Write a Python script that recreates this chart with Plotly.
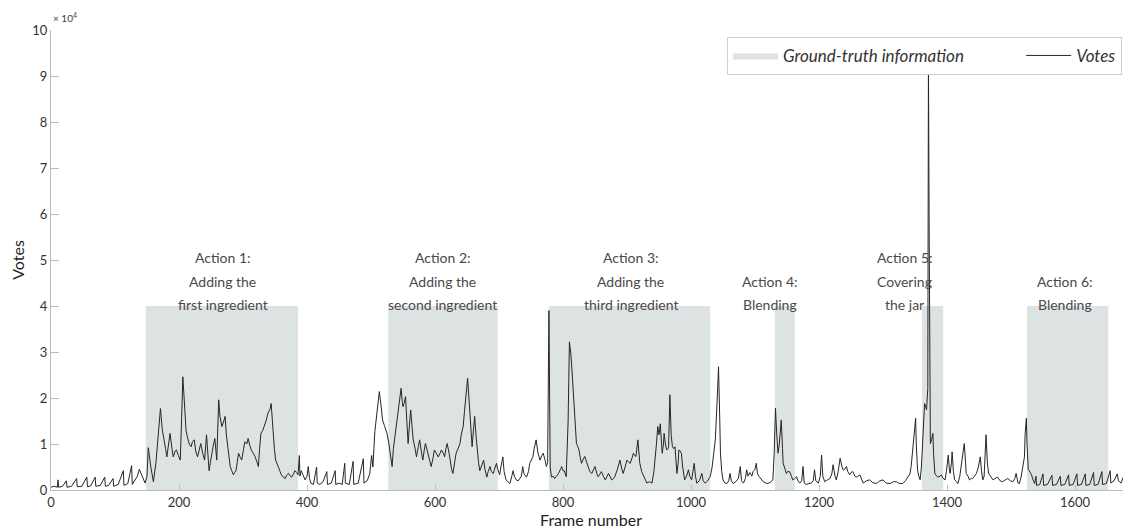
import plotly.graph_objects as go

# ---------------- data ----------------
# Votes per frame (in units of 10^4 votes)
frames = [
    0, 5, 10, 11, 12, 18, 24, 25, 32, 40, 41, 48, 56, 57, 62, 69, 70, 77, 84, 85, 90, 97, 98, 105,
    113, 114, 120, 126, 127, 131, 135, 138, 141, 144, 147, 150,
    152, 156, 160, 164, 167, 171, 174, 176, 179, 181, 184, 186, 189, 191, 194, 196, 199, 202, 204,
    206, 208, 209, 211, 213, 216, 219, 221, 224, 226, 229, 232, 234, 237, 240, 243, 245, 247, 249,
    251, 254, 256, 258, 259, 261, 262, 264, 267, 270, 272, 274, 276, 278, 280, 283, 285, 287, 289,
    291, 293, 296, 298, 301, 303, 306, 308, 311, 313, 316, 319, 322, 324, 326, 328, 331, 333, 336,
    339, 342, 344, 346, 347, 349, 351, 353, 355, 358, 360, 363, 366, 368, 371, 374, 376, 379, 381,
    384, 386, 388, 389, 391, 394, 397, 400, 402, 404,
    406, 410, 415, 416, 420, 425, 431, 432, 438, 444, 445, 450, 455, 459, 460, 466, 472, 473, 480,
    488, 489, 494, 498, 501, 503,
    506, 510, 513, 516, 518, 521, 525, 528, 530, 533, 535, 538, 541, 543, 545, 547, 549, 550, 552,
    554, 556, 558, 560, 562, 564, 566, 569, 571, 574, 576, 579, 581, 583, 585, 588, 590, 592, 594,
    597, 599, 602, 605, 608, 610, 613, 615, 617, 619, 622, 624, 626, 628, 631, 633, 636, 639, 641,
    644, 646, 648, 650, 651, 653, 654, 656, 658, 660, 662, 664, 666, 668, 670, 673, 676, 678, 681,
    683, 686, 688, 691, 693, 696, 698, 701, 703, 706, 708, 711, 714, 717, 720, 722, 724, 727, 730,
    732, 735, 737, 739, 743, 746, 748, 750, 753, 755, 758, 761, 764, 767, 769, 772, 774, 776, 778,
    780, 782, 785, 787, 790, 793, 796, 798, 800, 802, 805, 808, 810, 812, 814, 816, 818, 820, 821,
    823, 825, 827, 829, 831, 834, 837, 840, 842, 845, 848, 850, 853, 855, 858, 860, 863, 866, 869,
    871, 874, 876, 879, 881, 885, 889, 892, 894, 897, 900, 903, 905, 908, 910, 912, 914, 917, 919,
    920, 923, 926, 929, 931, 935, 939, 942, 944, 946, 948, 950, 952, 954, 955, 957, 958, 960, 962,
    964, 965, 967, 969, 971, 973, 975, 977, 978, 980, 981, 983, 985, 987, 990, 993, 996, 998, 1001,
    1003, 1005, 1007, 1009, 1013, 1017, 1019, 1022, 1026, 1030, 1033, 1035, 1038, 1041, 1043, 1045,
    1046, 1048, 1050, 1053, 1056, 1059, 1061, 1063, 1066, 1070, 1074, 1077, 1079, 1082, 1085, 1087,
    1089, 1092, 1095, 1097, 1100, 1102, 1104, 1106, 1109, 1113, 1117, 1120, 1124, 1128, 1130, 1132,
    1134, 1136, 1138, 1141, 1143, 1144, 1147, 1149, 1151, 1154, 1157, 1159, 1162, 1165, 1167, 1170,
    1173, 1175, 1177, 1180, 1184, 1188, 1191, 1193, 1195, 1199, 1202, 1204, 1206, 1209, 1213, 1217,
    1220, 1222, 1225, 1227, 1230, 1233, 1236, 1238, 1240, 1243, 1245, 1248, 1250, 1253, 1256, 1258,
    1261, 1264, 1267, 1269, 1274, 1279, 1284, 1290, 1295, 1300, 1305, 1311, 1316, 1321, 1326, 1331,
    1335, 1339, 1342, 1344, 1346, 1348, 1350, 1351, 1352, 1354, 1356, 1358, 1360, 1362, 1364, 1365,
    1367, 1368, 1370, 1371, 1372, 1373, 1374, 1376, 1378, 1379, 1381, 1384, 1386, 1389, 1391, 1394,
    1397, 1399, 1402, 1404, 1405, 1407, 1408, 1410, 1412, 1415, 1417, 1420, 1423, 1425, 1427, 1429,
    1430, 1433, 1435, 1438, 1440, 1443, 1446, 1449, 1452, 1454, 1456, 1458, 1461, 1463, 1465, 1468,
    1472, 1475, 1479, 1483, 1487, 1491, 1495, 1499, 1503, 1506, 1508, 1511, 1513, 1516, 1518, 1520,
    1521, 1522, 1524, 1525, 1527, 1530, 1532, 1535, 1537,
    1539, 1540, 1545, 1550, 1551, 1557, 1564, 1565, 1571, 1577, 1578, 1584, 1590, 1591, 1597, 1603,
    1604, 1610, 1616, 1617, 1623, 1629, 1630, 1636, 1642, 1643, 1649, 1655, 1656, 1661, 1666, 1668,
    1672, 1676, 1678, 1682, 1687,
]

votes_1e4 = [
    0.06, 0.08, 0.06, 0.22, 0.06, 0.08, 0.20, 0.06, 0.08, 0.25, 0.07, 0.08, 0.28, 0.07, 0.09, 0.28,
    0.08, 0.10, 0.28, 0.08, 0.10, 0.25, 0.08, 0.12,
    0.42, 0.10, 0.14, 0.53, 0.12, 0.20, 0.30, 0.45, 0.35, 0.25, 0.15, 0.30,
    0.92, 0.50, 0.18, 0.60, 1.10, 1.77, 1.30, 1.16, 0.90, 0.72, 1.00, 1.23, 0.90, 0.72, 0.85, 0.87,
    0.75, 0.65, 1.50,
    2.46, 2.00, 1.74, 1.30, 1.16, 1.00, 0.94, 1.05, 1.09, 0.85, 0.72, 0.90, 1.01, 0.80, 0.65, 1.20,
    0.80, 0.42, 0.60,
    0.80, 1.00, 1.12, 0.80, 0.65, 1.50, 1.96, 1.60, 1.38, 1.50, 1.60, 1.20, 0.94, 0.70, 0.51, 0.40,
    0.33, 0.38, 0.42,
    0.60, 0.80, 0.70, 0.65, 0.90, 1.05, 1.00, 1.12, 0.95, 0.87, 0.80, 0.72, 0.60, 0.51, 0.90, 1.23,
    1.30, 1.38, 1.50,
    1.67, 1.75, 1.88, 1.50, 1.16, 0.90, 0.65, 0.55, 0.51, 0.40, 0.33, 0.28, 0.25, 0.32, 0.36, 0.30,
    0.28, 0.35, 0.42,
    0.38, 0.33, 0.75, 0.30, 0.42, 0.30, 0.22, 0.30, 0.51, 0.25,
    0.15, 0.12, 0.50, 0.15, 0.12, 0.18, 0.40, 0.12, 0.15, 0.42, 0.12, 0.15, 0.12, 0.58, 0.15, 0.12,
    0.62, 0.12, 0.15,
    0.68, 0.15, 0.20, 0.35, 0.75, 0.50,
    1.27, 1.70, 2.14, 1.80, 1.52, 1.40, 1.23, 1.00, 0.80, 0.51, 0.90, 1.23, 1.50, 1.74, 2.00, 2.21,
    1.90, 1.81, 1.90,
    2.03, 1.50, 1.01, 1.40, 1.74, 1.40, 1.09, 0.90, 0.72, 0.95, 1.09, 0.80, 0.65, 0.85, 1.01, 0.85,
    0.72, 0.60, 0.51,
    0.70, 0.87, 0.80, 0.72, 0.80, 0.87, 0.80, 0.72, 0.90, 1.01, 0.80, 0.58, 0.45, 0.36, 0.60, 0.80,
    0.90, 1.01, 1.20,
    1.38, 1.70, 1.96, 2.30, 2.43, 2.00, 1.74, 1.20, 0.94, 1.30, 1.60, 1.20, 0.87, 0.60, 0.42, 0.55,
    0.65, 0.45, 0.28,
    0.40, 0.51, 0.40, 0.36, 0.45, 0.58, 0.45, 0.33, 0.50, 0.72, 0.40, 0.22, 0.18, 0.14, 0.30, 0.42,
    0.30, 0.22, 0.20,
    0.25, 0.30, 0.51, 0.35, 0.28, 0.40, 0.58, 0.65, 0.72, 0.90, 1.09, 0.80, 0.65, 0.75, 0.80, 0.65,
    0.51, 0.60, 3.90,
    0.50, 0.28, 0.30, 0.25, 0.30, 0.36, 0.45, 0.51, 0.42, 0.42, 0.29, 1.50, 3.22, 3.00, 2.61, 2.20,
    1.81, 1.30, 1.01,
    0.95, 0.87, 0.70, 0.58, 0.65, 0.73, 0.60, 0.47, 0.40, 0.36, 0.45, 0.51, 0.35, 0.29, 0.35, 0.40,
    0.30, 0.22, 0.30,
    0.36, 0.28, 0.22, 0.25, 0.29, 0.45, 0.65, 0.45, 0.36, 0.50, 0.65, 0.60, 0.58, 0.70, 0.80, 0.75,
    0.73, 1.09, 0.70,
    0.58, 0.40, 0.29, 0.20, 0.15, 0.18, 0.15, 0.40, 0.65, 1.00, 1.38, 1.20, 1.44, 1.00, 0.80, 1.00,
    1.23, 1.00, 0.87,
    0.90, 0.94, 2.07, 1.20, 0.94, 0.90, 0.94, 0.60, 0.36, 0.60, 0.87, 0.85, 0.80, 0.50, 0.22, 0.30,
    0.44, 0.30, 0.22,
    0.40, 0.58, 0.30, 0.15, 0.20, 0.36, 0.20, 0.15, 0.20, 0.29, 0.50, 0.80, 1.09, 2.00, 2.68, 1.50,
    0.80, 0.40, 0.22, 0.15, 0.14, 0.20, 0.36, 0.20, 0.14, 0.18, 0.25, 0.51, 0.20, 0.15, 0.25, 0.44,
    0.30, 0.38, 0.30, 0.40, 0.45, 0.58, 0.35, 0.30, 0.25, 0.18, 0.15, 0.14, 0.17, 0.22, 0.80, 1.78,
    1.20, 0.80, 1.00, 1.52, 0.90, 0.58, 0.45, 0.36, 0.40, 0.40, 0.30, 0.22, 0.25, 0.29, 0.20, 0.15,
    0.20, 0.51, 0.15, 0.12, 0.14, 0.15, 0.20, 0.44, 0.20, 0.15, 0.30, 0.76, 0.30, 0.18, 0.22, 0.25,
    0.35, 0.55, 0.30, 0.22, 0.40, 0.69, 0.50, 0.43, 0.45, 0.51, 0.40, 0.33, 0.38, 0.40, 0.30, 0.28,
    0.30, 0.33, 0.22, 0.15, 0.20, 0.22, 0.16, 0.14, 0.20, 0.22, 0.15, 0.14, 0.18, 0.18, 0.14, 0.14,
    0.20, 0.28, 0.35, 0.51, 0.80, 1.01, 1.40, 1.56, 1.00, 0.43, 0.30, 0.22, 0.50, 1.01, 1.60, 1.88,
    1.80, 1.74, 2.20, 9.35, 6.00, 2.50, 1.01, 1.10, 1.23, 0.80, 0.36, 0.30, 0.28, 0.30, 0.33, 0.25,
    0.22, 0.40, 0.76, 0.40, 0.36, 0.60, 0.83, 0.40, 0.22, 0.18, 0.14, 0.30, 0.65, 0.80, 1.01, 0.60,
    0.36, 0.30, 0.22, 0.25, 0.25, 0.30, 0.36, 0.50, 0.72, 0.40, 0.22, 0.30, 1.20, 0.60, 0.36, 0.30,
    0.22, 0.25, 0.28, 0.20, 0.18, 0.22, 0.25, 0.20, 0.18, 0.25, 0.36, 0.15, 0.14, 0.30, 0.51, 0.65,
    0.72, 1.20, 1.56, 1.00, 0.45, 0.38, 0.33, 0.20, 0.14,
    0.30, 0.10, 0.12, 0.35, 0.10, 0.12, 0.32, 0.10, 0.12, 0.30, 0.10, 0.12, 0.33, 0.10, 0.12, 0.35,
    0.10, 0.12, 0.35, 0.10, 0.12, 0.38, 0.10, 0.12, 0.40, 0.12, 0.14, 0.42, 0.15, 0.20, 0.35, 0.20,
    0.15, 0.30, 0.12, 0.15, 0.20,
]

# Ground-truth action intervals (frames)
action_start = [148, 527, 778, 1131, 1361, 1525]
action_end = [386, 698, 1030, 1162, 1394, 1652]
gt_level = 4  # ground-truth indicator height (x10^4)

action_labels = [
    ["Action 1:", "Adding the", "first ingredient"],
    ["Action 2:", "Adding the", "second ingredient"],
    ["Action 3:", "Adding the", "third ingredient"],
    ["Action 4:", "Blending"],
    ["Action 5:", "Covering", "the jar"],
    ["Action 6:", "Blending"],
]

x_ticks = [0, 200, 400, 600, 800, 1000, 1200, 1400, 1600]
y_ticks = list(range(0, 11))

# ---------------- figure ----------------
FONT = "Lato, 'Open Sans', sans-serif"

gx, gy = [], []
for s, e in zip(action_start, action_end):
    gx += [s, s, e, e, s, None]
    gy += [0, gt_level, gt_level, 0, 0, None]

fig = go.Figure()
fig.add_trace(go.Scatter(
    x=gx, y=gy, mode="lines", fill="toself",
    fillcolor="#dde2e2", line=dict(width=0, color="#dde2e2"),
    name="<i>Ground-truth information</i>" + "\u00a0" * 12,
    hoverinfo="skip",
))
fig.add_trace(go.Scatter(
    x=frames, y=votes_1e4, mode="lines",
    line=dict(color="#262626", width=1),
    name="<i>Votes</i>",
))

# action labels
label_x = [268, 612, 906, 1124, 1334, 1585]
line_y = [5.05, 4.53, 4.03]
for lx, lines in zip(label_x, action_labels):
    ys = line_y[-len(lines):]
    for txt, ly in zip(lines, ys):
        fig.add_annotation(x=lx, y=ly, text=txt, showarrow=False,
                           xanchor="center", yanchor="middle",
                           font=dict(family=FONT, size=14, color="#4a4a4a"))

# exponent label
fig.add_annotation(xref="paper", yref="paper", x=0.0, y=1.0, xanchor="left", yanchor="bottom",
                   yshift=4, text="\u00d7 10<sup>4</sup>", showarrow=False,
                   font=dict(family=FONT, size=10, color="#444"))

fig.update_layout(
    width=1131, height=531,
    margin=dict(l=43, r=8, t=22, b=49),
    paper_bgcolor="white", plot_bgcolor="white",
    font=dict(family=FONT, size=13, color="#333"),
    showlegend=True,
    legend=dict(
        orientation="h", x=0.626, y=0.985, xanchor="left", yanchor="top",
        bgcolor="white", bordercolor="#cfcfcf", borderwidth=1,
        font=dict(family=FONT, size=17, color="#333"),
        itemwidth=45, traceorder="normal",
    ),
    xaxis=dict(
        range=[0, 1687.5], tickvals=x_ticks, ticks="inside", ticklen=5,
        tickcolor="#bbb", showline=True, linecolor="#bbb", linewidth=1,
        showgrid=False, zeroline=False,
        title=dict(text="Frame number", standoff=2, font=dict(size=16, color="#222")),
        automargin=False, tickfont=dict(size=13, color="#333"),
    ),
    yaxis=dict(
        range=[0, 10], tickvals=y_ticks, ticks="inside", ticklen=8,
        tickcolor="#bbb", showline=True, linecolor="#bbb", linewidth=1,
        showgrid=False, zeroline=False,
        title=dict(text="Votes", standoff=12, font=dict(size=16, color="#222")),
        automargin=False, tickfont=dict(size=13, color="#333"),
    ),
)

fig.write_html("out.html")
